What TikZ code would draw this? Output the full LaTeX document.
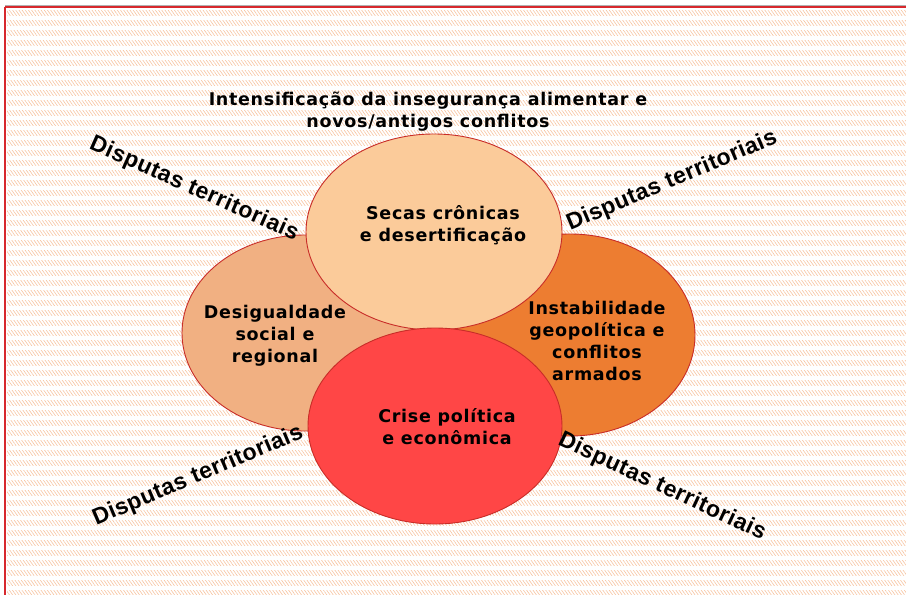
\documentclass[tikz,border=0pt]{standalone}
\usepackage{fontspec}
\setmainfont{DejaVu Sans}
\newfontfamily\boxfont[LetterSpace=4]{DejaVu Sans}
\newfontfamily\dispfont[LetterSpace=2]{Liberation Sans}
\usetikzlibrary{shapes.geometric,patterns.meta}
\definecolor{hatch}{RGB}{248,196,160}
\definecolor{edge}{RGB}{200,45,40}
\definecolor{cleft}{RGB}{241,176,130}
\definecolor{cright}{RGB}{237,125,49}
\definecolor{ctop}{RGB}{251,203,154}
\definecolor{cbot}{RGB}{255,70,70}
\definecolor{frame}{RGB}{215,40,45}
\tikzset{
  blob/.style={ellipse, draw=edge, line width=0.9pt, inner sep=0pt},
  lbl/.style={font=\boxfont\bfseries\fontsize{17.5}{22}\selectfont, align=center, inner sep=0pt},
  ttl/.style={font=\boxfont\bfseries\fontsize{17.5}{22}\selectfont, align=center, inner sep=0pt},
  disp/.style={font=\dispfont\bfseries\fontsize{23}{26}\selectfont, inner sep=0pt},
}
\begin{document}
\begin{tikzpicture}[x=1pt,y=-1pt]
\useasboundingbox (0,0) rectangle (906,595);
\fill[white] (0,0) rectangle (906,595);
% hatched background rows
\foreach \r in {10,20,...,590}{
  \fill[pattern={Lines[angle=-55,distance=2.6pt,line width=0.6pt]}, pattern color=hatch] (7,\r) rectangle (906,\r+5);
}
% frame
\draw[gray!60, line width=1pt] (5,5.5) -- (906,5.5);
\draw[frame, line width=1.2pt] (5,7) -- (906,7);
\draw[frame, line width=1.4pt] (5,7) -- (5,595);
% ellipses
\node[blob, fill=cleft, minimum width=246pt, minimum height=196pt] (eleft) at (305,333) {};
\node[blob, fill=cright, minimum width=250pt, minimum height=202pt] (eright) at (570,335) {};
\node[blob, fill=ctop, minimum width=256pt, minimum height=196pt] (etop) at (434,232) {};
\node[blob, fill=cbot, minimum width=254pt, minimum height=196pt] (ebot) at (435,426) {};
% texts
\node[ttl] (title) at (428,111.5) {Intensificação da insegurança alimentar e\\novos/antigos conflitos};
\node[lbl] (ttop) at (443,225.5) {Secas crônicas\\e desertificação};
\node[lbl] (tleft) at (275,336) {Desigualdade\\social e\\regional};
\node[lbl] (tright) at (597,341) {Instabilidade\\geopolítica e\\conflitos\\armados};
\node[lbl] (tbot) at (447,427) {Crise política\\e econômica};
% disputas
\node[disp, rotate=-24] (dtl) at (194,189) {Disputas territoriais};
\node[disp, rotate=23] (dtr) at (672,181) {Disputas territoriais};
\node[disp, rotate=23] (dbl) at (198,476) {Disputas territoriais};
\node[disp, rotate=-25] (dbr) at (662,487) {Disputas territoriais};
\end{tikzpicture}
\end{document}
